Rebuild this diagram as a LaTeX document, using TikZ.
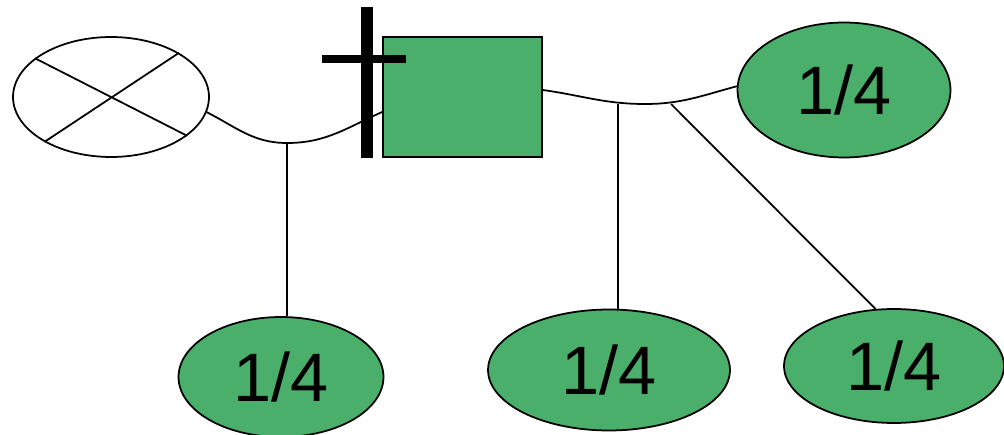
\documentclass[tikz,border=0pt]{standalone}
\usepackage{fontspec}
\setmainfont{Liberation Sans}
\usetikzlibrary{shapes.geometric}
\definecolor{kidgreen}{RGB}{74,175,106}
\tikzset{
	parent/.style = {draw, line width=1pt, inner sep=0pt},
	kid/.style = {ellipse, draw, line width=1pt, fill=kidgreen, inner sep=0pt, font=\fontsize{39}{42}\selectfont},
	link/.style = {line width=1pt},
}

\begin{document}
\begin{tikzpicture}[x=0.02cm, y=0.02cm]
	\useasboundingbox (0,0) rectangle (1004,-435);
	% ====== Parents ========
	\node[parent, ellipse, minimum width=3.92cm, minimum height=2.4cm] (mother) at (111,-97) {};
	\draw[link] (mother.153) -- (mother.-27) (mother.214) -- (mother.33);
	\node[parent, fill=kidgreen, minimum width=3.18cm, minimum height=2.4cm] (father) at (462.5,-97) {};
	% ====== Children ========
	\node[kid, minimum width=4.1cm, minimum height=2.4cm] (kid1) at (281,-377) {1/4};
	\node[kid, minimum width=4.84cm, minimum height=2.42cm] (kid2) at (609,-370) {1/4};
	\node[kid, minimum width=4.4cm, minimum height=2.28cm] (kid3) at (894,-366) {1/4};
	\node[kid, minimum width=4.26cm, minimum height=2.7cm] (kid4) at (844,-90) {1/4};
	% ====== Lines ========
	\coordinate (j1) at (287,-143);
	\coordinate (j2) at (645,-104);
	\coordinate (d2) at (618,-104);
	\coordinate (d3) at (671,-104);
	\draw[link] (mother.-9) to[out=-27, in=180] (j1) to[out=0, in=204] ([yshift=-0.3cm]father.west);
	\draw[link] ([yshift=0.14cm]father.east) to[out=-8, in=180] (j2) to[out=0, in=195] (kid4.178);
	\draw[link] (j1) -- (j1 |- kid1.north);
	\draw[link] (d2) -- (d2 |- kid2.north);
	\draw[link] (d3) -- (kid3.108);
	% ====== Cross ========
	\draw[line width=0.24cm] (367,-7) -- (367,-158);
	\draw[line width=0.16cm] (322,-59) -- (406,-59);
\end{tikzpicture}
\end{document}
